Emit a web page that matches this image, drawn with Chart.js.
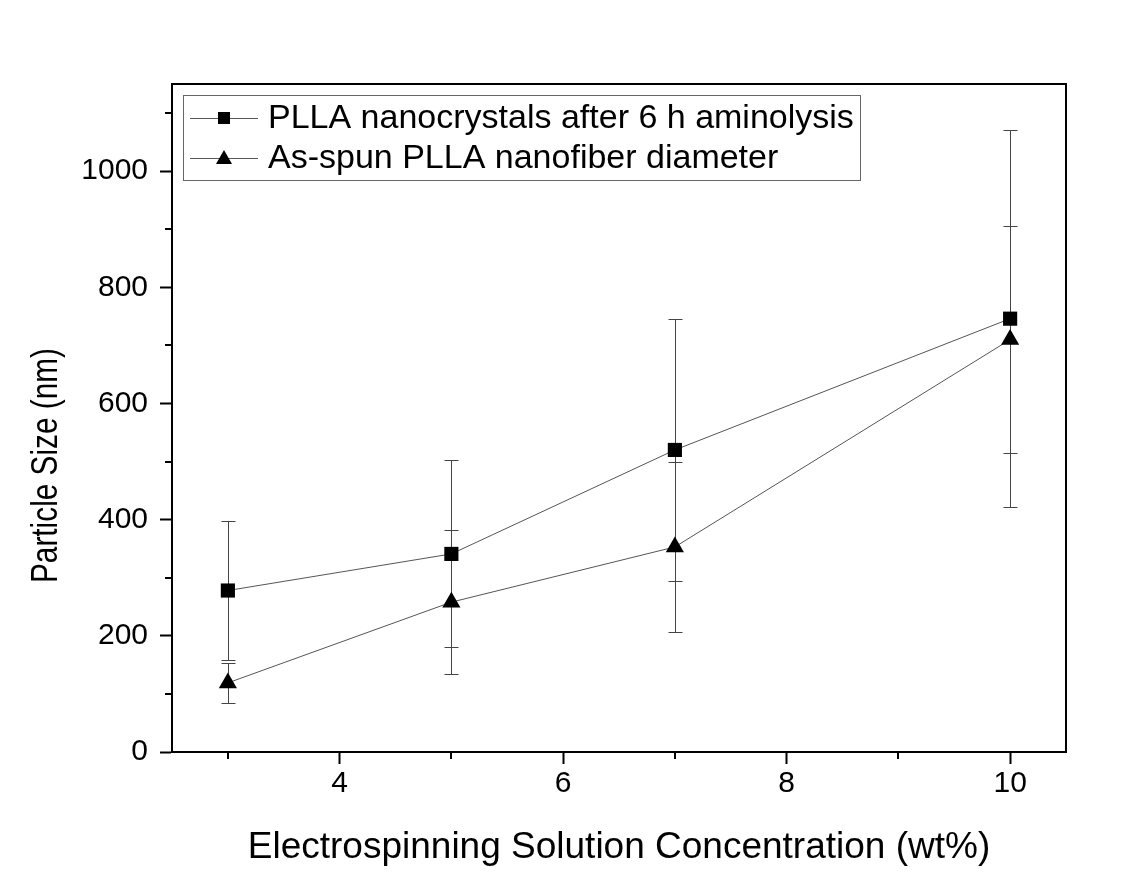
<!DOCTYPE html>
<html><head><meta charset="utf-8">
<script src="https://cdn.jsdelivr.net/npm/chart.js@4.4.0/dist/chart.umd.min.js"></script>
<style>html,body{margin:0;padding:0;background:#fff}</style>
</head><body>
<canvas id="c" width="1143" height="888"></canvas>
<script>
const concentrations = [3, 5, 7, 10];
const nanocrystalSize = [278, 341, 520, 746];
const nanocrystalErr = [119, 161, 226, 325];
const fiberDiameter = [119, 258, 353, 710];
const fiberErr = [34, 124, 147, 196];
const xTicks = [4, 6, 8, 10];
const xMinorTicks = [3, 5, 7, 9];
const yTicks = [0, 200, 400, 600, 800, 1000];
const yMinorTicks = [100, 300, 500, 700, 900, 1100];
const seriesLabels = ['PLLA nanocrystals after 6 h aminolysis', 'As-spun PLLA nanofiber diameter'];
const xTitle = 'Electrospinning Solution Concentration (wt%)';
const yTitle = 'Particle Size (nm)';

const FONT = '"Liberation Sans", Arial, sans-serif';
const errs = [nanocrystalErr, fiberErr];
const shapes = ['rect', 'triangle'];

const extras = {
  id: 'extras',
  beforeDatasetsDraw(chart) {
    const ctx = chart.ctx, xs = chart.scales.x, ys = chart.scales.y;
    ctx.save();
    ctx.strokeStyle = '#444';
    ctx.lineWidth = 1;
    chart.data.datasets.forEach((ds, i) => {
      ds.data.forEach((p, j) => {
        const x = Math.round(xs.getPixelForValue(p.x)) + 0.5;
        const e = errs[i][j];
        const yt = Math.round(ys.getPixelForValue(p.y + e)) + 0.5;
        const yb = Math.round(ys.getPixelForValue(p.y - e)) + 0.5;
        ctx.beginPath();
        ctx.moveTo(x, yt); ctx.lineTo(x, yb);
        ctx.moveTo(x - 7, yt); ctx.lineTo(x + 7, yt);
        ctx.moveTo(x - 7, yb); ctx.lineTo(x + 7, yb);
        ctx.stroke();
      });
    });
    ctx.restore();
  },
  afterDraw(chart) {
    const ctx = chart.ctx, a = chart.chartArea, xs = chart.scales.x, ys = chart.scales.y;
    ctx.save();
    // frame
    ctx.strokeStyle = '#000';
    ctx.lineWidth = 2;
    ctx.strokeRect(a.left, a.top, a.right - a.left, a.bottom - a.top);
    // minor ticks
    ctx.beginPath();
    yMinorTicks.forEach(v => {
      const y = Math.round(ys.getPixelForValue(v));
      ctx.moveTo(a.left - 7, y); ctx.lineTo(a.left, y);
    });
    xMinorTicks.forEach(v => {
      const x = Math.round(xs.getPixelForValue(v));
      ctx.moveTo(x, a.bottom); ctx.lineTo(x, a.bottom + 7);
    });
    ctx.stroke();
    // y title (condensed along its length like the reference)
    ctx.save();
    ctx.fillStyle = '#000';
    ctx.font = '37px ' + FONT;
    const w = ctx.measureText(yTitle).width;
    ctx.translate(57, 583);
    ctx.rotate(-Math.PI / 2);
    ctx.scale(235 / w, 1);
    ctx.textAlign = 'left';
    ctx.textBaseline = 'alphabetic';
    ctx.fillText(yTitle, 0, 0);
    ctx.restore();
    // legend
    const lx = 183, ly = 95, lw = 677, lh = 85;
    ctx.fillStyle = '#fff';
    ctx.fillRect(lx, ly, lw, lh);
    ctx.strokeStyle = '#666';
    ctx.lineWidth = 1;
    ctx.strokeRect(lx + 0.5, ly + 0.5, lw, lh);
    const rows = [118, 158];
    chart.data.datasets.forEach((ds, i) => {
      const y = rows[i];
      ctx.strokeStyle = '#555';
      ctx.lineWidth = 1;
      ctx.beginPath();
      ctx.moveTo(190, y + 0.5); ctx.lineTo(258, y + 0.5);
      ctx.stroke();
      ctx.fillStyle = '#000';
      const cx = 224;
      if (shapes[i] === 'rect') {
        ctx.fillRect(cx - 6, y - 6, 12, 12);
      } else {
        ctx.beginPath();
        ctx.moveTo(cx, y - 8);
        ctx.lineTo(cx + 8, y + 6);
        ctx.lineTo(cx - 8, y + 6);
        ctx.closePath();
        ctx.fill();
      }
      ctx.font = '34px ' + FONT;
      ctx.textBaseline = 'middle';
      ctx.textAlign = 'left';
      ctx.fillText(ds.label, 268, y + 1);
    });
    ctx.restore();
  }
};

new Chart(document.getElementById('c'), {
  type: 'line',
  data: {
    datasets: [
      {
        label: seriesLabels[0],
        data: concentrations.map((x, i) => ({ x, y: nanocrystalSize[i] })),
        borderColor: '#555', borderWidth: 1,
        pointStyle: 'rect', pointRadius: 10, pointBackgroundColor: '#000', pointBorderColor: '#000', pointBorderWidth: 0,
        tension: 0
      },
      {
        label: seriesLabels[1],
        data: concentrations.map((x, i) => ({ x, y: fiberDiameter[i] })),
        borderColor: '#555', borderWidth: 1,
        pointStyle: 'triangle', pointRadius: 10.5, pointBackgroundColor: '#000', pointBorderColor: '#000', pointBorderWidth: 0,
        tension: 0
      }
    ]
  },
  options: {
    responsive: false,
    animation: false,
    layout: { padding: { left: 0, top: 84, right: 77, bottom: 0 } },
    plugins: { legend: { display: false }, tooltip: { enabled: false } },
    scales: {
      x: {
        type: 'linear', min: 2.5, max: 10.5,
        afterBuildTicks: s => { s.ticks = xTicks.map(v => ({ value: v })); },
        afterFit: s => { s.height = 136; },
        grid: { drawOnChartArea: false, drawTicks: true, tickLength: 12, color: '#000', tickWidth: 2 },
        border: { display: true, color: '#000', width: 2 },
        ticks: { color: '#000', font: { family: FONT, size: 30 }, padding: 2, maxRotation: 0, callback: v => String(v) },
        title: { display: true, text: xTitle, color: '#000', font: { family: FONT, size: 37 }, padding: 18 }
      },
      y: {
        type: 'linear', min: 0, max: 1150,
        afterBuildTicks: s => { s.ticks = yTicks.map(v => ({ value: v })); },
        afterFit: s => { s.width = 172; },
        grid: { drawOnChartArea: false, drawTicks: true, tickLength: 12, color: '#000', tickWidth: 2 },
        border: { display: true, color: '#000', width: 2 },
        ticks: { color: '#000', font: { family: FONT, size: 30 }, padding: 12, callback: v => String(v) },
        title: { display: false }
      }
    }
  },
  plugins: [extras]
});
</script>
</body></html>
